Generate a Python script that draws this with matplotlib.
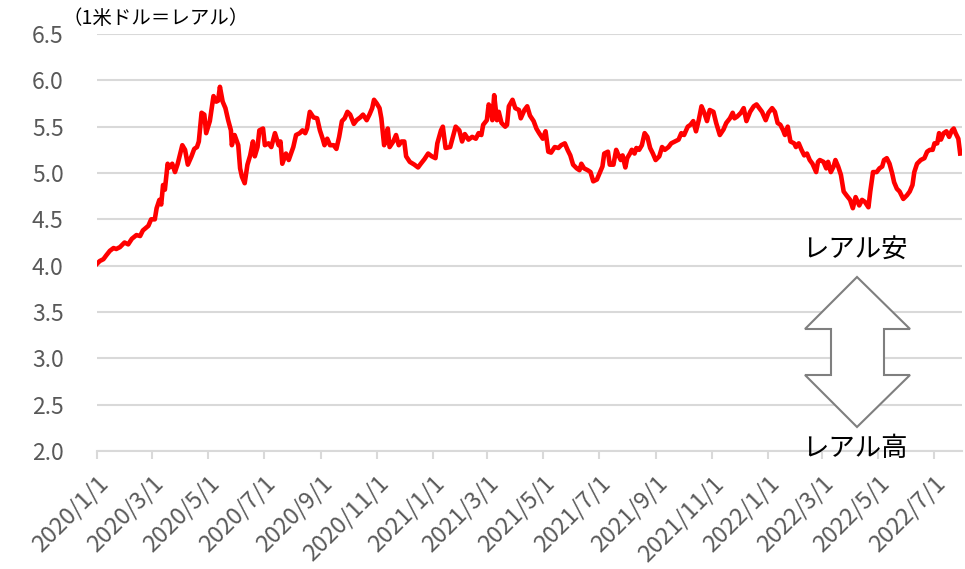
#!/usr/bin/env python3
"""USD/BRL exchange rate, 2020/1 - 2022/7."""

import numpy as np
import pandas as pd
import matplotlib
matplotlib.use("Agg")
import matplotlib.pyplot as plt
import matplotlib.dates as mdates
from matplotlib.patches import Polygon

plt.rcParams["font.family"] = ["Noto Sans CJK JP", "DejaVu Sans"]

START = "2020-01-01"

# days since 2020/1/1 and rate (BRL per 1 USD)
days = [
    0, 3, 7, 10, 14, 18, 21, 25, 30, 34, 38, 43, 47, 50, 56, 59, 63, 65, 68, 70,
    72, 74, 77, 79, 82, 85, 88, 93, 96, 99, 103, 106, 109, 111, 114, 117, 119, 123, 127, 130,
    132, 134, 137, 140, 143, 146, 147, 150, 154, 156, 158, 161, 164, 167, 170, 172, 175, 177, 181, 183,
    187, 190, 194, 198, 200, 202, 206, 209, 214, 217, 221, 224, 227, 229, 232, 236, 240, 243, 246, 248,
    251, 254, 258, 261, 264, 267, 270, 273, 276, 280, 283, 287, 290, 294, 297, 300, 302, 305, 308, 310,
    313, 315, 317, 319, 323, 326, 329, 332, 335, 337, 341, 346, 350, 353, 357, 361, 365, 369, 371, 375,
    377, 380, 385, 388, 391, 395, 398, 401, 405, 409, 413, 416, 419, 421, 425, 427, 429, 431, 433, 436,
    438, 441, 445, 447, 449, 453, 456, 460, 462, 466, 469, 472, 476, 479, 482, 486, 489, 492, 495, 499,
    503, 506, 510, 513, 516, 519, 523, 526, 528, 531, 535, 538, 541, 545, 548, 551, 553, 557, 559, 563,
    566, 569, 571, 573, 576, 578, 581, 583, 586, 588, 591, 594, 597, 600, 603, 606, 609, 613, 616, 619,
    623, 626, 630, 634, 637, 640, 644, 647, 650, 653, 656, 659, 662, 665, 668, 672, 675, 679, 683, 686,
    690, 693, 695, 698, 702, 705, 708, 712, 716, 719, 722, 725, 729, 732, 736, 739, 742, 745, 748, 750,
    753, 756, 760, 762, 765, 768, 771, 774, 777, 780, 784, 786, 788, 792, 795, 797, 800, 803, 805, 808,
    811, 814, 817, 821, 824, 827, 831, 834, 837, 841, 843, 846, 850, 853, 856, 858, 861, 864, 867, 869,
    872, 875, 879, 883, 886, 889, 891, 894, 898, 902, 905, 908, 911, 913, 916, 918, 920, 923, 926, 929,
    932, 934, 936, 939, 941,
]
rate = [
    4.02, 4.05, 4.07, 4.11, 4.16, 4.19, 4.18, 4.20, 4.25, 4.23, 4.29, 4.33, 4.32, 4.38, 4.43, 4.50, 4.50, 4.62, 4.71, 4.66,
    4.87, 4.82, 5.10, 5.06, 5.10, 5.01, 5.10, 5.30, 5.25, 5.09, 5.18, 5.26, 5.28, 5.34, 5.65, 5.63, 5.43, 5.56, 5.83, 5.77,
    5.78, 5.93, 5.77, 5.70, 5.57, 5.46, 5.30, 5.41, 5.30, 5.05, 4.96, 4.89, 5.09, 5.19, 5.34, 5.18, 5.28, 5.46, 5.48, 5.30,
    5.32, 5.28, 5.43, 5.30, 5.34, 5.10, 5.21, 5.14, 5.28, 5.41, 5.43, 5.46, 5.43, 5.48, 5.66, 5.60, 5.59, 5.46, 5.37, 5.30,
    5.37, 5.30, 5.30, 5.26, 5.39, 5.56, 5.59, 5.66, 5.63, 5.53, 5.57, 5.60, 5.63, 5.57, 5.63, 5.70, 5.79, 5.75, 5.70, 5.59,
    5.30, 5.36, 5.48, 5.28, 5.34, 5.41, 5.30, 5.34, 5.34, 5.18, 5.12, 5.09, 5.06, 5.10, 5.15, 5.21, 5.18, 5.16, 5.32, 5.46,
    5.50, 5.27, 5.28, 5.39, 5.50, 5.46, 5.34, 5.42, 5.36, 5.39, 5.37, 5.43, 5.41, 5.52, 5.57, 5.74, 5.70, 5.57, 5.84, 5.57,
    5.66, 5.54, 5.50, 5.52, 5.72, 5.79, 5.70, 5.68, 5.59, 5.68, 5.72, 5.62, 5.56, 5.48, 5.43, 5.37, 5.45, 5.23, 5.22, 5.28,
    5.27, 5.30, 5.32, 5.25, 5.19, 5.09, 5.05, 5.03, 5.10, 5.05, 5.03, 5.01, 4.91, 4.93, 5.00, 5.07, 5.21, 5.23, 5.09, 5.09,
    5.25, 5.18, 5.14, 5.19, 5.06, 5.16, 5.21, 5.25, 5.21, 5.27, 5.25, 5.30, 5.43, 5.39, 5.27, 5.21, 5.14, 5.18, 5.28, 5.25,
    5.28, 5.32, 5.34, 5.36, 5.43, 5.41, 5.50, 5.52, 5.56, 5.45, 5.57, 5.72, 5.65, 5.56, 5.68, 5.66, 5.54, 5.41, 5.47, 5.54,
    5.59, 5.65, 5.59, 5.61, 5.65, 5.70, 5.56, 5.66, 5.72, 5.74, 5.70, 5.66, 5.57, 5.65, 5.70, 5.66, 5.54, 5.52, 5.46, 5.41,
    5.50, 5.34, 5.32, 5.28, 5.32, 5.25, 5.19, 5.21, 5.14, 5.10, 5.01, 5.12, 5.14, 5.12, 5.05, 5.12, 5.01, 5.07, 5.14, 5.07,
    4.98, 4.80, 4.76, 4.71, 4.62, 4.74, 4.65, 4.71, 4.69, 4.63, 4.80, 5.01, 5.01, 5.05, 5.07, 5.14, 5.16, 5.10, 4.99, 4.90,
    4.83, 4.80, 4.72, 4.76, 4.80, 4.87, 5.01, 5.10, 5.14, 5.16, 5.23, 5.25, 5.25, 5.32, 5.32, 5.43, 5.36, 5.43, 5.45, 5.39,
    5.46, 5.48, 5.43, 5.37, 5.21,
]
y_ticks = [2.0, 2.5, 3.0, 3.5, 4.0, 4.5, 5.0, 5.5, 6.0, 6.5]
unit_label = "（1米ドル＝レアル）"
weak_label = "レアル安"
strong_label = "レアル高"

W, H = 965, 569
GRID = "#d9d9d9"
TEXT = "#595959"


def fx(px):
    return px / W


def fy(py):
    return 1 - py / H


dates = pd.Timestamp(START) + pd.to_timedelta(np.array(days), unit="D")

fig = plt.figure(figsize=(W / 100, H / 100), dpi=100)
ax = fig.add_axes([fx(97), fy(451), fx(962) - fx(97), fy(34) - fy(451)])

ax.plot(dates, rate, color="#ff0000", linewidth=3.3, solid_joinstyle="round", zorder=3)

ax.set_ylim(2.0, 6.5)
ax.set_yticks(y_ticks)
ax.set_yticklabels([f"{v:.1f}" for v in y_ticks])
ax.set_xlim(pd.Timestamp(START), pd.Timestamp(START) + pd.Timedelta(days=943))
ax.xaxis.set_major_locator(mdates.MonthLocator(bymonth=[1, 3, 5, 7, 9, 11], bymonthday=1))
ax.xaxis.set_major_formatter(
    matplotlib.ticker.FuncFormatter(lambda x, _: (lambda d: f"{d.year}/{d.month}/{d.day}")(mdates.num2date(x)))
)

ax.grid(axis="y", color=GRID, linewidth=1.5, zorder=0)
for side in ("top", "right", "left"):
    ax.spines[side].set_visible(False)
ax.spines["bottom"].set_color(GRID)
ax.spines["bottom"].set_linewidth(1.5)
ax.tick_params(axis="y", length=0, labelsize=16.5, labelcolor=TEXT, pad=24)
ax.tick_params(axis="x", length=6, width=1.5, color=GRID, labelsize=17, labelcolor=TEXT, pad=9)
plt.setp(ax.get_xticklabels(), rotation=45, ha="right", rotation_mode="anchor")

fig.text(fx(62), fy(18), unit_label, fontsize=14, color="black", va="center", ha="left")

# double-headed arrow on the right
arrow_px = [(857, 277), (910, 329), (884, 329), (884, 375), (910, 375), (857, 427),
            (805, 375), (831, 375), (831, 329), (805, 329)]
fig.patches.append(Polygon([(fx(x), fy(y)) for x, y in arrow_px], closed=True,
                           transform=fig.transFigure, facecolor="white",
                           edgecolor="#7f7f7f", linewidth=1.5, zorder=5))
fig.text(fx(855), fy(250), weak_label, fontsize=19, color="black", ha="center", va="center", zorder=6)
fig.text(fx(855), fy(448), strong_label, fontsize=19, color="black", ha="center", va="center", zorder=6)

fig.savefig("out.png", dpi=100)
